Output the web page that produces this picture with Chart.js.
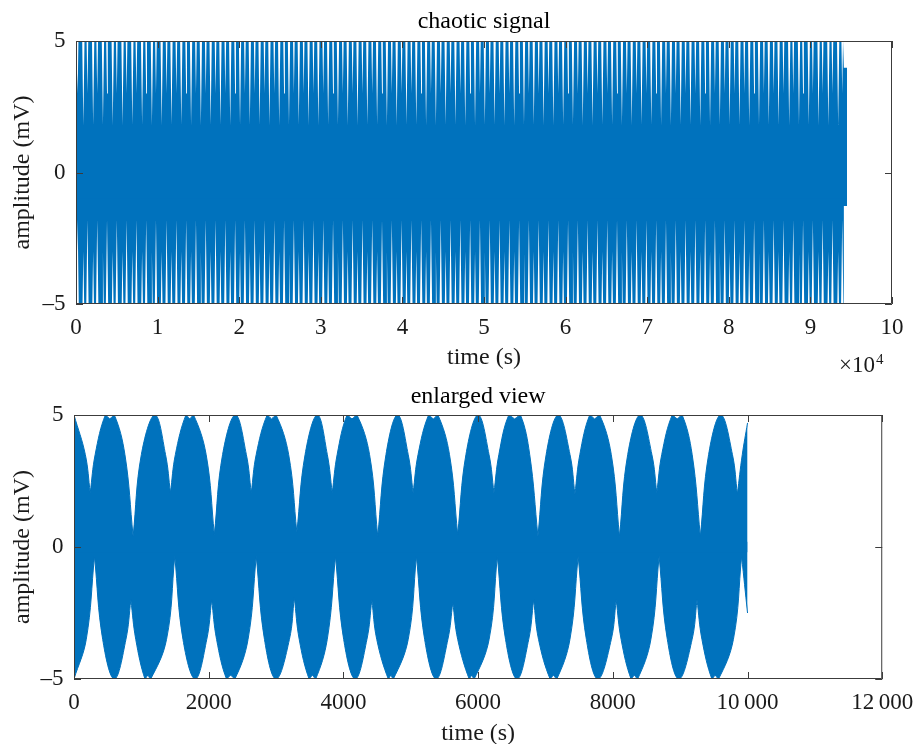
<!DOCTYPE html>
<html>
<head>
<meta charset="utf-8">
<script src="https://cdn.jsdelivr.net/npm/chart.js@4.4.1/dist/chart.umd.min.js"></script>
<style>
  html, body { margin: 0; padding: 0; background: #fff; overflow: hidden; }
  #wrap { position: relative; width: 923px; height: 744px; }
  canvas { position: absolute; left: 0; }
  #fullChart { top: 0; }
  #zoomChart { top: 380px; }
</style>
</head>
<body>
<div id="wrap">
  <canvas id="fullChart" width="923" height="380"></canvas>
  <canvas id="zoomChart" width="923" height="380"></canvas>
</div>
<script>
// ---- whole record (time in units of 1e4 s) ----
// times where the envelope opens up; A: deep gap on top / shallow gap below,
// B: shallow gap on top / deep gap below
const gapTimesA = [0.09, 0.21, 0.33, 0.45, 0.57, 0.69, 0.81, 0.93, 1.05, 1.17, 1.29, 1.41, 1.53, 1.65,
  1.77, 1.89, 2.01, 2.13, 2.25, 2.37, 2.49, 2.61, 2.73, 2.85, 2.97, 3.09, 3.21, 3.33, 3.45, 3.57,
  3.69, 3.81, 3.93, 4.05, 4.17, 4.29, 4.41, 4.53, 4.65, 4.77, 4.89, 5.01, 5.13, 5.25, 5.37, 5.49,
  5.61, 5.73, 5.85, 5.97, 6.09, 6.21, 6.33, 6.45, 6.57, 6.69, 6.81, 6.93, 7.05, 7.17, 7.29, 7.41,
  7.53, 7.65, 7.77, 7.89, 8.01, 8.13, 8.25, 8.37, 8.49, 8.61, 8.74, 8.86, 8.98, 9.10, 9.22, 9.34];
const gapTimesB = [0.02, 0.14, 0.26, 0.38, 0.50, 0.62, 0.74, 0.86, 0.98, 1.11, 1.23, 1.35, 1.47, 1.59,
  1.71, 1.83, 1.95, 2.07, 2.19, 2.31, 2.43, 2.55, 2.67, 2.79, 2.91, 3.03, 3.15, 3.27, 3.39, 3.51,
  3.63, 3.75, 3.87, 3.99, 4.11, 4.23, 4.35, 4.47, 4.59, 4.71, 4.83, 4.95, 5.07, 5.19, 5.31, 5.43,
  5.55, 5.67, 5.79, 5.91, 6.03, 6.15, 6.27, 6.39, 6.51, 6.63, 6.75, 6.87, 6.99, 7.11, 7.23, 7.35,
  7.47, 7.59, 7.71, 7.83, 7.95, 8.07, 8.19, 8.31, 8.43, 8.55, 8.67, 8.79, 8.91, 9.03, 9.15, 9.27, 9.39];
// how far each gap reaches into the band (mV), for A and B
const gapDepthTop = [1.8, 3.0];
const gapDepthBottom = [-3.0, -1.8];
const fullEndTimes = [9.41, 9.45];     // last, smaller swing
const fullEndTop = [3.98, 3.98];
const fullEndBottom = [-1.27, -1.27];
const fullXTicks = [0, 1, 2, 3, 4, 5, 6, 7, 8, 9, 10];

// ---- enlarged view (time in s, amplitude in mV) ----
// upper envelope: peaks, notches of the double peaks, flanks and dips
const zoomTopT = [0, 168, 241, 314,
  466, 532, 599, 756, 878, 1000, 1201, 1359, 1432, 1505,
  1662, 1718, 1775, 1962, 2084, 2206, 2397, 2559, 2632, 2705,
  2868, 2934, 3000, 3187, 3309, 3431, 3613, 3761, 3834, 3907,
  4054, 4127, 4201, 4388, 4510, 4632, 4804, 4962, 5035, 5108,
  5265, 5334, 5403, 5575, 5697, 5819, 6000, 6162, 6235, 6308,
  6456, 6542, 6628, 6766, 6888, 7010, 7191, 7364, 7437, 7510,
  7657, 7730, 7804, 7977, 8099, 8221, 8407, 8580, 8653, 8726,
  8882, 8955, 9029, 9178, 9300, 9422, 9603, 9776, 9849, 9922,
  10000];
const zoomTopV = [5, 3.5, 2.05, 3.5,
  5, 4.85, 5, 3.5, 0.4, 3.5, 5, 3.5, 2.05, 3.5,
  5, 4.85, 5, 3.5, 0.47, 3.5, 5, 3.5, 2.05, 3.5,
  5, 4.85, 5, 3.5, 0.55, 3.5, 5, 3.5, 2.05, 3.5,
  5, 4.85, 5, 3.5, 0.4, 3.5, 5, 3.5, 2.05, 3.5,
  5, 4.85, 5, 3.5, 0.47, 3.5, 5, 3.5, 2.05, 3.5,
  5, 4.85, 5, 3.5, 0.4, 3.5, 5, 3.5, 2.0, 3.5,
  5, 4.85, 5, 3.5, 0.4, 3.5, 5, 3.5, 2.05, 3.5,
  5, 4.85, 5, 3.5, 0.4, 3.5, 5, 3.5, 2.0, 3.5,
  4.7];
// lower envelope
const zoomBotT = [0, 182, 304, 426, 599, 771, 844, 917,
  1054, 1096, 1138, 1374, 1496, 1618, 1800, 1971, 2044, 2117,
  2265, 2326, 2388, 2584, 2706, 2828, 3000, 3198, 3271, 3344,
  3491, 3540, 3588, 3760, 3882, 4004, 4176, 4349, 4422, 4495,
  4667, 4704, 4741, 4962, 5084, 5206, 5378, 5551, 5624, 5697,
  5868, 5905, 5941, 6163, 6285, 6407, 6579, 6751, 6824, 6897,
  7069, 7118, 7168, 7363, 7485, 7607, 7779, 7977, 8050, 8123,
  8271, 8320, 8368, 8565, 8687, 8809, 8981, 9177, 9250, 9323,
  9471, 9520, 9569, 9790, 9912, 10000];
const zoomBotV = [-5, -3.5, -0.35, -3.5, -5, -3.5, -2.0, -3.5,
  -5, -4.85, -5, -3.5, -0.35, -3.5, -5, -3.5, -2.0, -3.5,
  -5, -4.85, -5, -3.5, -0.35, -3.5, -5, -3.5, -1.9, -3.5,
  -5, -4.85, -5, -3.5, -0.35, -3.5, -5, -3.5, -2.0, -3.5,
  -5, -4.85, -5, -3.5, -0.35, -3.5, -5, -3.5, -2.1, -3.5,
  -5, -4.85, -5, -3.5, -0.35, -3.5, -5, -3.5, -2.0, -3.5,
  -5, -4.85, -5, -3.5, -0.35, -3.5, -5, -3.5, -2.0, -3.5,
  -5, -4.85, -5, -3.5, -0.35, -3.5, -5, -3.5, -2.0, -3.5,
  -5, -4.85, -5, -3.5, -0.35, -2.5];
const zoomXTicks = [0, 2000, 4000, 6000, 8000, 10000, 12000];
const ampTicks = [-5, 0, 5];

const SERIF = "'Liberation Serif', 'Times New Roman', serif";
const BLUE = '#0072BD';
const INK = '#1a1a1a';

// envelope of the full record: flat at +/-5 with narrow V-shaped gaps
function gapLine(full, depths, halfWidths, endT, endV) {
  const gaps = [];
  gapTimesA.forEach(t => gaps.push([t, depths[0], halfWidths[0]]));
  gapTimesB.forEach(t => gaps.push([t, depths[1], halfWidths[1]]));
  gaps.sort((a, b) => a[0] - b[0]);
  const pts = [{ x: 0, y: full }];
  gaps.forEach(([t, d, w]) => {
    if (t + w >= endT[0]) return;
    pts.push({ x: Math.max(0, t - w), y: full }, { x: t, y: d }, { x: t + w, y: full });
  });
  pts.push({ x: endT[0], y: full });
  endT.forEach((t, i) => pts.push({ x: t, y: endV[i] }));
  return pts;
}

// envelope of the enlarged view; dips are doubled so the spline keeps a corner
function lobeLine(times, values) {
  const pts = [];
  times.forEach((t, i) => {
    pts.push({ x: t, y: values[i] });
    const a = Math.abs(values[i]);
    if (i > 0 && i < times.length - 1 &&
        a < Math.abs(values[i - 1]) && a < Math.abs(values[i + 1])) {
      pts.push({ x: t, y: values[i] });
    }
  });
  return pts;
}

// box round the axes with inward ticks on all four sides
const boxFrame = {
  id: 'boxFrame',
  afterDatasetsDraw(chart) {
    const { ctx, chartArea: a, scales: { x, y } } = chart;
    ctx.save();
    ctx.strokeStyle = '#3c3c3c';
    ctx.lineWidth = 1;
    ctx.beginPath();
    ctx.rect(a.left + 0.5, a.top + 0.5, a.right - a.left - 1, a.bottom - a.top - 1);
    x.ticks.forEach(t => {
      const px = Math.round(x.getPixelForValue(t.value)) + 0.5;
      ctx.moveTo(px, a.bottom); ctx.lineTo(px, a.bottom - 7);
      ctx.moveTo(px, a.top); ctx.lineTo(px, a.top + 7);
    });
    y.ticks.forEach(t => {
      const py = Math.round(y.getPixelForValue(t.value)) + 0.5;
      ctx.moveTo(a.left, py); ctx.lineTo(a.left + 7, py);
      ctx.moveTo(a.right, py); ctx.lineTo(a.right - 7, py);
    });
    ctx.stroke();
    ctx.restore();
  }
};

// "x10^4" multiplier under the end of the time axis
const exponentLabel = {
  id: 'exponentLabel',
  afterDraw(chart) {
    const { ctx } = chart;
    ctx.save();
    ctx.fillStyle = INK;
    ctx.textBaseline = 'alphabetic';
    ctx.font = '23px ' + SERIF;
    const x0 = 839;
    ctx.fillText('\u00d710', x0, 372);
    const w = ctx.measureText('\u00d710').width;
    ctx.font = '15px ' + SERIF;
    ctx.fillText('4', x0 + w + 1, 364);
    ctx.restore();
  }
};

function minusLabel(v) {
  return v < 0 ? '\u2013' + Math.abs(v) : String(v);
}

function spaced(v) {
  return v >= 10000 ? String(v).replace(/(\d+)(\d{3})$/, '$1\u2009$2') : String(v);
}

function baseOptions(cfg) {
  const tickFont = { family: SERIF, size: 23 };
  const labelFont = { family: SERIF, size: 24 };
  return {
    responsive: false,
    animation: false,
    devicePixelRatio: 1,
    events: [],
    layout: { padding: { left: 0, right: cfg.right, top: 0, bottom: 0 } },
    elements: { point: { radius: 0 } },
    plugins: {
      legend: { display: false },
      tooltip: { enabled: false },
      title: {
        display: true, text: cfg.title, fullSize: false, color: '#000',
        font: { family: SERIF, size: 24, weight: 'normal' },
        padding: cfg.titlePad
      }
    },
    scales: {
      x: {
        type: 'linear', min: cfg.xMin, max: cfg.xMax,
        grid: { display: false, drawTicks: false }, border: { display: false },
        afterBuildTicks: s => { s.ticks = cfg.xTicks.map(v => ({ value: v })); },
        ticks: { autoSkip: false, maxRotation: 0, padding: 9.7, color: INK, font: tickFont, callback: cfg.xFmt },
        title: { display: true, text: 'time (s)', color: INK, font: labelFont, padding: { top: 0, bottom: cfg.xTitlePad } },
        afterFit: s => { s.height = cfg.xHeight; }
      },
      y: {
        min: -5, max: 5,
        grid: { display: false, drawTicks: false }, border: { display: false },
        afterBuildTicks: s => { s.ticks = ampTicks.map(v => ({ value: v })); },
        ticks: { padding: 10.5, color: INK, font: tickFont, callback: minusLabel },
        title: { display: true, text: 'amplitude (mV)', color: INK, font: labelFont, padding: { top: 8.2, bottom: 0 } },
        afterFit: s => { s.width = cfg.left; }
      }
    }
  };
}

// each half of the band is filled a little past zero so the halves overlap
function bandHalf(data, tension, width, reach) {
  return {
    data, tension,
    borderColor: BLUE, backgroundColor: BLUE, borderWidth: width,
    pointRadius: 0, fill: { value: reach }
  };
}

new Chart(document.getElementById('fullChart'), {
  type: 'line',
  data: {
    datasets: [
      bandHalf(gapLine(5, gapDepthTop, [0.014, 0.010], fullEndTimes, fullEndTop), 0, 0, -1),
      bandHalf(gapLine(-5, gapDepthBottom, [0.010, 0.014], fullEndTimes, fullEndBottom), 0, 0, 1)
    ]
  },
  options: baseOptions({
    title: 'chaotic signal', titlePad: { top: 7.6, bottom: 4.6 },
    left: 76, right: 31, xHeight: 76, xTitlePad: 7.6,
    xMin: 0, xMax: 10, xTicks: fullXTicks, xFmt: v => String(v)
  }),
  plugins: [boxFrame, exponentLabel]
});

new Chart(document.getElementById('zoomChart'), {
  type: 'line',
  data: {
    datasets: [
      bandHalf(lobeLine(zoomTopT, zoomTopV), 0.4, 1, -0.2),
      bandHalf(lobeLine(zoomBotT, zoomBotV), 0.4, 1, 0.2)
    ]
  },
  options: baseOptions({
    title: 'enlarged view', titlePad: { top: 2.6, bottom: 3.6 },
    left: 74, right: 33, xHeight: 81, xTitlePad: 11.6,
    xMin: 0, xMax: 12000, xTicks: zoomXTicks, xFmt: spaced
  }),
  plugins: [boxFrame]
});
</script>
</body>
</html>
